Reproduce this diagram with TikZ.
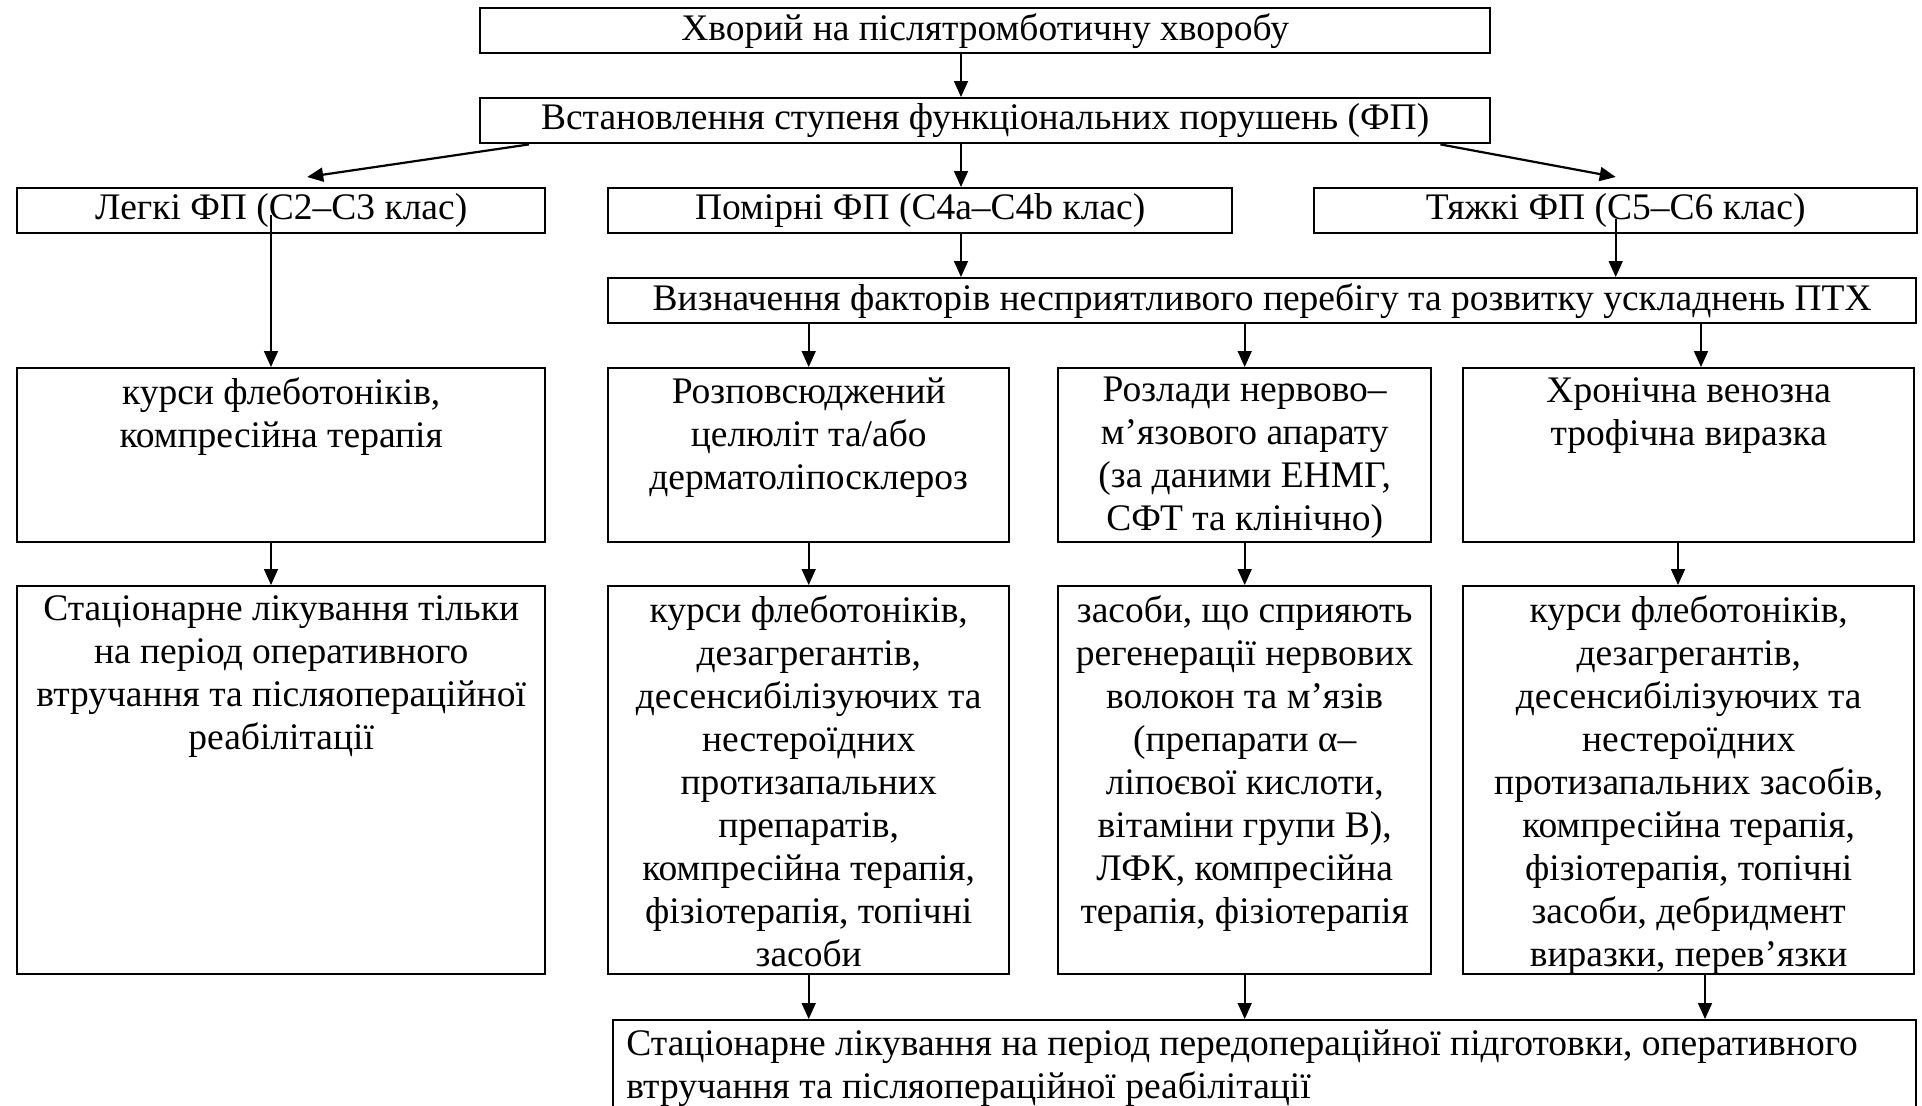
\documentclass[tikz,border=0pt]{standalone}
\usepackage{fontspec}
\setmainfont{Liberation Serif}
\usetikzlibrary{arrows.meta}

\newcommand{\boxfont}{\fontsize{18.75pt}{21.5pt}\selectfont}

\tikzset{
  box/.style 2 args={draw,line width=1.2pt,anchor=north west,inner sep=0pt,
    minimum width=#1*0.5pt,minimum height=#2*0.5pt,font=\boxfont},
  cell/.style={anchor=north,inner sep=0pt,align=center,font=\boxfont,yshift=-5pt},
  arr/.style={-{Triangle[length=8pt,width=7pt]},line width=0.8pt},
  diag/.style={arr,line width=1.1pt},
}

\begin{document}
\begin{tikzpicture}[x=0.5pt,y=-0.5pt]
  \useasboundingbox (0,0) rectangle (1922,1105);
  \clip (0,0) rectangle (1922,1105);

  % top part
  \node[box={1010}{45}] (pat) at (479,7) {Хворий на післятромботичну хворобу};
  \node[box={1010}{45}] (stage) at (479,97) {Встановлення ступеня функціональних порушень (ФП)};

  \node[box={528}{45}] (light) at (16,187) {Легкі ФП (C2–C3 клас)};
  \node[box={624}{45}] (mod) at (607,187) {Помірні ФП (C4a–C4b клас)};
  \node[box={603}{45}] (sev) at (1313,187) {Тяжкі ФП (C5–C6 клас)};
  \node[box={1308}{45}] (risk) at (607,277) {Визначення факторів несприятливого перебігу та розвитку ускладнень ПТХ};

  % third row
  \node[box={528}{174}] (r3a) at (16,367) {};
  \node[box={401}{174}] (r3b) at (607,367) {};
  \node[box={373}{174}] (r3c) at (1057,367) {};
  \node[box={451}{174}] (r3d) at (1462,367) {};
  \node[cell] (r3a-t) at (r3a.north) {курси флеботоніків,\\компресійна терапія};
  \node[cell] (r3b-t) at (r3b.north) {Розповсюджений\\целюліт та/або\\дерматоліпосклероз};
  \node[cell] (r3c-t) at (r3c.north) {Розлади нервово–\\м’язового апарату\\(за даними ЕНМГ,\\СФТ та клінічно)};
  \node[cell] (r3d-t) at (r3d.north) {Хронічна венозна\\трофічна виразка};

  % fourth row
  \node[box={528}{388}] (r4a) at (16,585) {};
  \node[box={401}{388}] (r4b) at (607,585) {};
  \node[box={373}{388}] (r4c) at (1057,585) {};
  \node[box={451}{388}] (r4d) at (1462,585) {};
  \node[cell] (r4a-t) at (r4a.north) {Стаціонарне лікування тільки\\на період оперативного\\втручання та післяопераційної\\реабілітації};
  \node[cell] (r4b-t) at (r4b.north) {курси флеботоніків,\\дезагрегантів,\\десенсибілізуючих та\\нестероїдних\\протизапальних\\препаратів,\\компресійна терапія,\\фізіотерапія, топічні\\засоби};
  \node[cell] (r4c-t) at (r4c.north) {засоби, що сприяють\\регенерації нервових\\волокон та м’язів\\(препарати α–\\ліпоєвої кислоти,\\вітаміни групи В),\\ЛФК, компресійна\\терапія, фізіотерапія};
  \node[cell] (r4d-t) at (r4d.north) {курси флеботоніків,\\дезагрегантів,\\десенсибілізуючих та\\нестероїдних\\протизапальних засобів,\\компресійна терапія,\\фізіотерапія, топічні\\засоби, дебридмент\\виразки, перев’язки};

  % last box, cut by the page
  \node[box={1303}{160}] (fin) at (612,1019) {};
  \node[cell,anchor=north west,align=left,xshift=7pt] (fin-t) at (fin.north west) {Стаціонарне лікування на період передопераційної підготовки, оперативного\\втручання та післяопераційної реабілітації};

  % arrow columns
  \coordinate (colL) at (271,0);
  \coordinate (colM) at (961,0);
  \coordinate (colD1) at (1701,0);
  \coordinate (colD2) at (1678,0);
  \coordinate (colD3) at (1705,0);
  \coordinate (lgo) at ([yshift=9.5pt]light.south);
  \coordinate (sgo) at ([yshift=7.5pt]sev.south);

  \draw[arr] (pat.south -| colM) -- (stage.north -| colM);
  \draw[arr] (stage.south -| colM) -- (mod.north -| colM);
  \draw[arr] (mod.south -| colM) -- (risk.north -| colM);
  \draw[diag] ([xshift=25pt]stage.south west) -- ([xshift=13pt,yshift=5pt]light.north);
  \draw[diag] ([xshift=-25.5pt]stage.south east) -- ([yshift=5pt]sev.north);
  \draw[arr] (lgo -| colL) -- (r3a.north -| colL);
  \draw[arr] (sgo) -- (risk.north -| sgo);

  \foreach \n in {r3b,r3c}
    \draw[arr] (risk.south -| \n.north) -- (\n.north);
  \draw[arr] (risk.south -| colD1) -- (r3d.north -| colD1);

  \draw[arr] (r3a.south -| colL) -- (r4a.north -| colL);
  \foreach \a/\b in {r3b/r4b,r3c/r4c}
    \draw[arr] (\a.south) -- (\b.north);
  \draw[arr] (r3d.south -| colD2) -- (r4d.north -| colD2);

  \foreach \n in {r4b,r4c}
    \draw[arr] (\n.south) -- (fin.north -| \n.south);
  \draw[arr] (r4d.south -| colD3) -- (fin.north -| colD3);
\end{tikzpicture}
\end{document}
